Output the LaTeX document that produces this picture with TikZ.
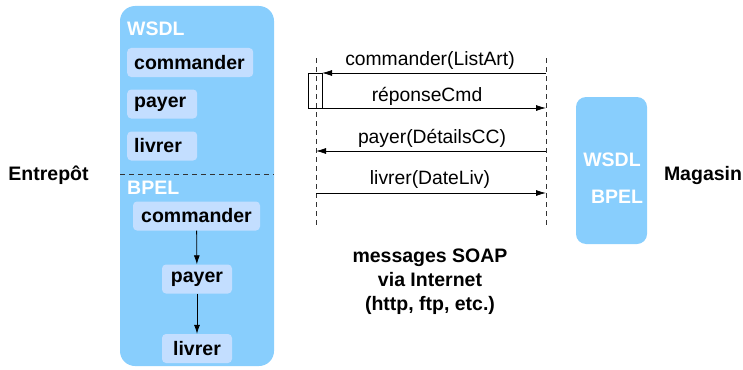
\documentclass[tikz,border=0pt]{standalone}
\usepackage{fontspec}
\setmainfont{Liberation Sans}
\usetikzlibrary{arrows.meta}
\definecolor{bigblue}{HTML}{88CEFD}
\definecolor{innerblue}{HTML}{C3DEFF}
\begin{document}
\begin{tikzpicture}[x=1pt,y=-1pt,
  txt/.style={font=\fontsize{19.5}{22}\selectfont\bfseries, inner sep=0pt},
  seqtxt/.style={font=\fontsize{19.3}{22}\selectfont, inner sep=0pt},
  label/.style={txt, text=white},
  opbox/.style={txt, fill=innerblue, rounded corners=4pt, minimum height=29pt, inner xsep=7pt},
  lifeline/.style={draw=black!80, dash pattern=on 5pt off 4pt, line width=0.7pt},
  msg/.style={draw=black, line width=0.8pt, -{Latex[length=10pt,width=6pt]}},
  flow/.style={draw=black, line width=0.8pt, -{Latex[length=9pt,width=6pt]}}
]
\useasboundingbox (0,0) rectangle (743,369);
% left big box
\node[fill=bigblue, rounded corners=15pt, minimum width=154pt, minimum height=360pt, inner sep=0pt] (ent) at (197,186) {};
\node[label, anchor=west] (wsdlL) at (127,29) {WSDL};
\node[opbox, anchor=west, text width=112pt, align=left] (wcmd) at (127,62.5) {commander};
\node[opbox, anchor=west, text width=56pt, align=left] (wpay) at (127,104) {payer};
\node[opbox, anchor=west, text width=56pt, align=left] (wliv) at (127,146) {livrer};
\coordinate (sepL) at (120,174);
\coordinate (sepR) at (274,174);
\draw[black!80, dash pattern=on 5pt off 4pt, line width=0.8pt] (sepL) -- (sepR);
\node[label, anchor=west] (bpelL) at (127,188) {BPEL};
\node[opbox, minimum width=127pt] (bcmd) at (196.5,216) {commander};
\node[opbox, minimum width=70pt] (bpay) at (197,279) {payer};
\node[opbox, minimum width=70pt] (bliv) at (197,348.5) {livrer};
\draw[flow] (bcmd) -- (bpay);
\draw[flow] (bpay) -- (bliv);
% labels
\node[txt] (entrepot) at (48.5,175) {Entrepôt};
\node[txt] (magasin) at (703,175) {Magasin};
% right box
\node[fill=bigblue, rounded corners=10pt, minimum width=71pt, minimum height=147pt, inner sep=0pt] (mag) at (611.5,170.5) {};
\node[label] (wsdlR) at (612,160) {WSDL};
\node[label] (bpelR) at (617,197) {BPEL};
% lifelines
\coordinate (lt) at (316,58);
\coordinate (lb) at (316,225);
\coordinate (rt) at (546,58);
\coordinate (rb) at (546,225);
\draw[lifeline] (lt) -- (lb);
\draw[lifeline] (rt) -- (rb);
% activation
\node[draw=black, line width=0.7pt, minimum width=14pt, minimum height=35pt, inner sep=0pt] (act) at (315,90.5) {};
% messages
\coordinate (m1r) at (546,73);
\coordinate (m1l) at (322,73);
\coordinate (m2l) at (322,108);
\coordinate (m2r) at (546,108);
\coordinate (m3r) at (546,151);
\coordinate (m3l) at (316,151);
\coordinate (m4l) at (316,193);
\coordinate (m4r) at (546,193);
\draw[msg] (m1r) -- (m1l);
\draw[msg] (m2l) -- (m2r);
\draw[msg] (m3r) -- (m3l);
\draw[msg] (m4l) -- (m4r);
\node[seqtxt] (l1) at (430,61) {commander(ListArt)};
\node[seqtxt] (l2) at (427,96) {réponseCmd};
\node[seqtxt] (l3) at (432,138) {payer(DétailsCC)};
\node[seqtxt] (l4) at (430,180) {livrer(DateLiv)};
% soap text
\node[txt, align=center, font=\fontsize{19.5}{24}\selectfont\bfseries] (soap) at (430,282) {messages SOAP\\via Internet\\(http, ftp, etc.)};
\end{tikzpicture}
\end{document}
